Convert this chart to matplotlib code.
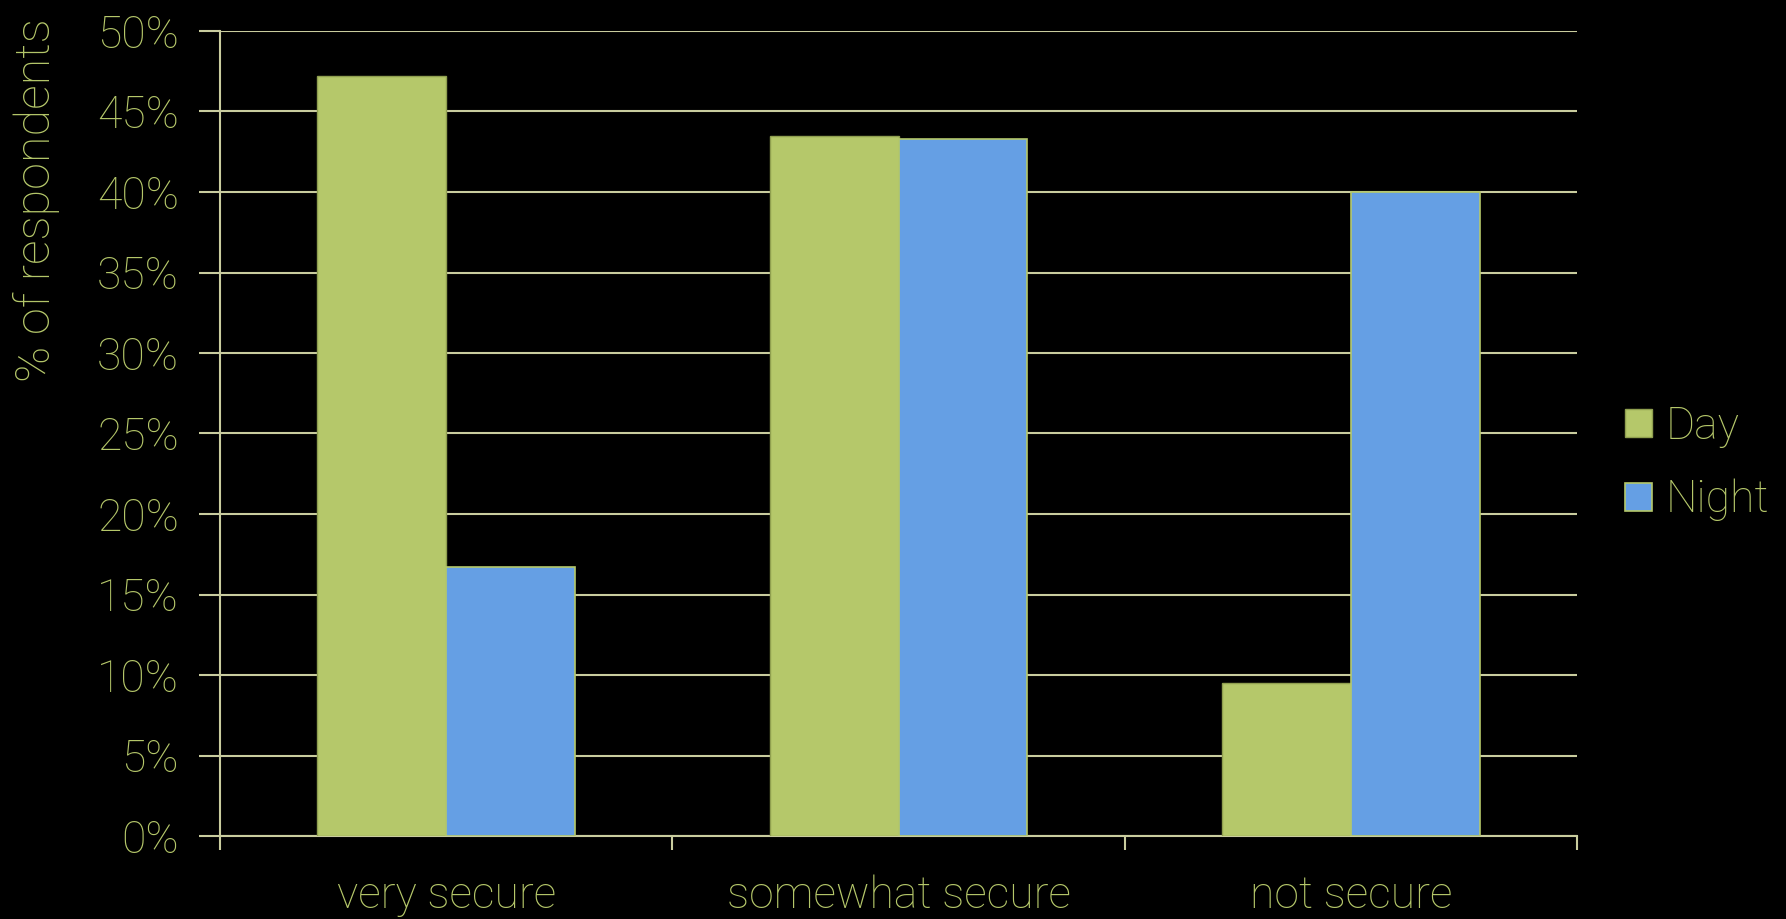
import matplotlib
matplotlib.use("Agg")
import matplotlib.pyplot as plt
import numpy as np

categories = ["very secure", "somewhat secure", "not secure"]
series_names = ["Day", "Night"]
day_values = [47.2, 43.5, 9.5]
night_values = [16.7, 43.3, 40.0]
y_ticks = [0, 5, 10, 15, 20, 25, 30, 35, 40, 45, 50]
y_tick_labels = [f"{v}%" for v in y_ticks]

TEXT = "#b5c76a"
GREEN = "#b5c86a"
BLUE = "#659fe4"
GRID = "#c9cc9e"
FS = 32
FW = "light"

plt.rcParams["font.family"] = ["Roboto", "DejaVu Sans"]

fig = plt.figure(figsize=(17.86, 9.19), dpi=100, facecolor="black")
ax = fig.add_axes([220/1786, 1-836/919, (1577-220)/1786, (836-31)/919])
ax.set_facecolor("black")

x = np.arange(len(categories))
w = 0.285
ax.bar(x - w/2, day_values, w, color=GREEN, edgecolor="#8f9f4f", linewidth=1, label=series_names[0], zorder=3)
ax.bar(x + w/2, night_values, w, color=BLUE, edgecolor=GREEN, linewidth=1.2, label=series_names[1], zorder=3)

ax.set_xlim(-0.5, len(categories) - 0.5)
ax.set_ylim(0, 50)
ax.set_yticks(y_ticks)
ax.set_yticklabels(y_tick_labels)
ax.yaxis.grid(True, color=GRID, linewidth=1.5, zorder=0)
ax.set_axisbelow(True)

ax.set_xticks(np.arange(-0.5, len(categories), 1.0))
ax.set_xticklabels([])
ax.set_xticks(x, minor=True)
ax.set_xticklabels(categories, minor=True)
ax.tick_params(axis="x", which="major", length=10, width=1.5, color=GRID, direction="out")
ax.tick_params(axis="x", which="minor", length=0, pad=28, labelsize=FS, labelcolor=TEXT)
ax.tick_params(axis="y", length=15, width=1.5, color=GRID, direction="out", pad=14.5, labelsize=FS, labelcolor=TEXT)
for lab in ax.get_xticklabels(minor=True) + ax.get_yticklabels():
    lab.set_fontweight(FW)

for s in ["top", "right"]:
    ax.spines[s].set_visible(False)
for s in ["left", "bottom"]:
    ax.spines[s].set_color(GRID)
    ax.spines[s].set_linewidth(1.5)

ax.set_ylabel("% of respondents", color=TEXT, fontsize=35, fontweight=FW)
ax.yaxis.set_label_coords(-0.118, 0.79)

leg = ax.legend(loc="center left", bbox_to_anchor=(1.006, 0.463), frameon=False,
                handlelength=0.6, handleheight=0.6, handletextpad=0.3,
                labelspacing=0.7, labelcolor=TEXT, prop={"weight": FW, "size": FS})

fig.savefig("out.png", dpi=100, facecolor="black")
